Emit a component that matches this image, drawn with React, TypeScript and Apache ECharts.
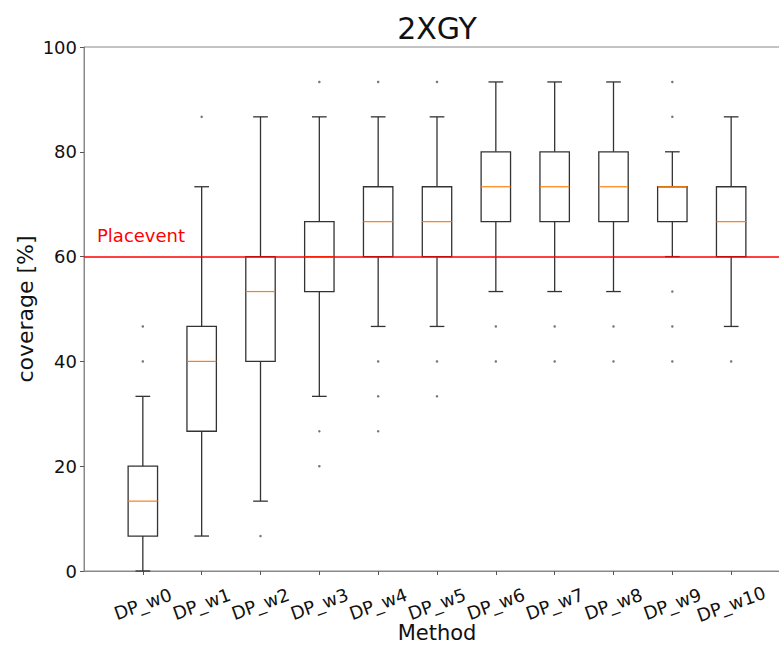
import React, { useEffect, useRef } from "react";
import * as echarts from "echarts";

const categories = ["DP_w0", "DP_w1", "DP_w2", "DP_w3", "DP_w4", "DP_w5", "DP_w6", "DP_w7", "DP_w8", "DP_w9", "DP_w10"];
const whiskerLow = [0, 6.67, 13.33, 33.33, 46.67, 46.67, 53.33, 53.33, 53.33, 60, 46.67];
const q1 = [6.67, 26.67, 40, 53.33, 60, 60, 66.67, 66.67, 66.67, 66.67, 60];
const median = [13.33, 40, 53.33, 60, 66.67, 66.67, 73.33, 73.33, 73.33, 73.33, 66.67];
const q3 = [20, 46.67, 60, 66.67, 73.33, 73.33, 80, 80, 80, 73.33, 73.33];
const whiskerHigh = [33.33, 73.33, 86.67, 86.67, 86.67, 86.67, 93.33, 93.33, 93.33, 80, 86.67];
const outliers = [
  [46.67, 40],
  [86.67],
  [6.67],
  [93.33, 26.67, 20],
  [93.33, 40, 33.33, 26.67],
  [93.33, 40, 33.33],
  [46.67, 40],
  [46.67, 40],
  [46.67, 40],
  [93.33, 86.67, 53.33, 46.67, 40],
  [40],
];
const yTicks = [0, 20, 40, 60, 80, 100];
const thresholdValue = 60;
const thresholdLabel = "Placevent";
const titleText = "2XGY";

const FONT = "DejaVu Sans";

export default function App() {
  const ref = useRef<HTMLDivElement>(null);
  useEffect(() => {
    document.body.style.margin = "0";
    if (!ref.current) return;
    const chart = echarts.init(ref.current, null, { renderer: "svg" });
    const axisCats = [" ", ...categories, "  "];
    const boxData = categories.map((c, i) => [c, whiskerLow[i], q1[i], median[i], q3[i], whiskerHigh[i]]);
    const outlierData: any[] = [];
    outliers.forEach((arr, i) => arr.forEach((v) => outlierData.push([categories[i], v])));
    const lineColor = "#333";

    const option: any = {
      animation: false,
      backgroundColor: "#fff",
      graphic: [
        {
          type: "text",
          x: 437,
          y: 28,
          style: {
            text: titleText,
            font: `30px '${FONT}'`,
            align: "center",
            verticalAlign: "middle",
            fill: "#111",
          },
        },
      ],
      grid: {
        left: 84,
        top: 47,
        right: -11,
        bottom: 74,
        containLabel: false,
        outerBoundsMode: "none",
        show: true,
        borderColor: "#888",
        borderWidth: 1,
        backgroundColor: "transparent",
      },
      xAxis: {
        type: "category",
        data: axisCats,
        boundaryGap: false,
        name: "Method",
        nameLocation: "middle",
        nameGap: 52,
        nameMoveOverlap: false,
        nameTextStyle: { fontFamily: FONT, fontSize: 21, lineHeight: 20, color: "#111" },
        axisLine: { show: true, lineStyle: { color: "#888", width: 1 } },
        axisTick: {
          show: true,
          length: 4,
          interval: (index: number) => index >= 1 && index <= categories.length,
          lineStyle: { color: "#555" },
        },
        axisLabel: {
          interval: 0,
          rotate: 20,
          align: "center",
          verticalAlign: "middle",
          margin: 33,
          fontFamily: FONT,
          fontSize: 18,
          color: "#111",
        },
        splitLine: { show: false },
      },
      yAxis: {
        type: "value",
        min: 0,
        max: 100,
        interval: 20,
        name: "coverage [%]",
        nameLocation: "middle",
        nameGap: 48,
        nameMoveOverlap: false,
        nameTextStyle: { fontFamily: FONT, fontSize: 22, color: "#111" },
        axisLine: { show: true, lineStyle: { color: "#888", width: 1 } },
        axisTick: { show: true, length: 4, lineStyle: { color: "#555" } },
        axisLabel: {
          margin: 7,
          fontFamily: FONT,
          fontSize: 18,
          color: "#111",
          formatter: (v: number) => (yTicks.includes(v) ? String(v) : ""),
        },
        splitLine: { show: false },
      },
      series: [
        {
          type: "custom",
          z: 2,
          data: boxData,
          encode: { x: 0, y: [1, 2, 3, 4, 5] },
          renderItem: (params: any, api: any) => {
            const x = api.value(0);
            const band = api.size([1, 0])[0];
            const hw = band * 0.25;
            const cw = band * 0.125;
            const pLow = api.coord([x, api.value(1)]);
            const pQ1 = api.coord([x, api.value(2)]);
            const pMed = api.coord([x, api.value(3)]);
            const pQ3 = api.coord([x, api.value(4)]);
            const pHigh = api.coord([x, api.value(5)]);
            const cx = pQ1[0];
            const ls = { stroke: lineColor, lineWidth: 1.3, fill: null };
            return {
              type: "group",
              children: [
                { type: "line", shape: { x1: cx, y1: pQ1[1], x2: cx, y2: pLow[1] }, style: ls },
                { type: "line", shape: { x1: cx, y1: pQ3[1], x2: cx, y2: pHigh[1] }, style: ls },
                { type: "line", shape: { x1: cx - cw, y1: pLow[1], x2: cx + cw, y2: pLow[1] }, style: ls },
                { type: "line", shape: { x1: cx - cw, y1: pHigh[1], x2: cx + cw, y2: pHigh[1] }, style: ls },
                {
                  type: "rect",
                  shape: { x: cx - hw, y: pQ3[1], width: hw * 2, height: pQ1[1] - pQ3[1] },
                  style: { stroke: lineColor, lineWidth: 1.3, fill: "rgba(255,255,255,0)" },
                },
                {
                  type: "line",
                  shape: { x1: cx - hw, y1: pMed[1], x2: cx + hw, y2: pMed[1] },
                  style: { stroke: "#ff7f0e", lineWidth: 1.2 },
                },
              ],
            };
          },
        },
        {
          type: "scatter",
          z: 3,
          data: outlierData,
          symbol: "circle",
          symbolSize: 2.5,
          itemStyle: { color: "#555" },
        },
        {
          type: "line",
          z: 10,
          data: [],
          markLine: {
            silent: true,
            symbol: "none",
            lineStyle: { color: "#ff0000", width: 1.5, type: "solid" },
            label: {
              show: true,
              position: "insideStartTop",
              formatter: thresholdLabel,
              color: "#ff0000",
              fontFamily: FONT,
              fontSize: 18,
              distance: [13, 12],
            },
            data: [{ yAxis: thresholdValue }],
          },
        },
      ],
    };
    chart.setOption(option);
    return () => chart.dispose();
  }, []);
  return <div ref={ref} style={{ width: 779, height: 645 }} />;
}
